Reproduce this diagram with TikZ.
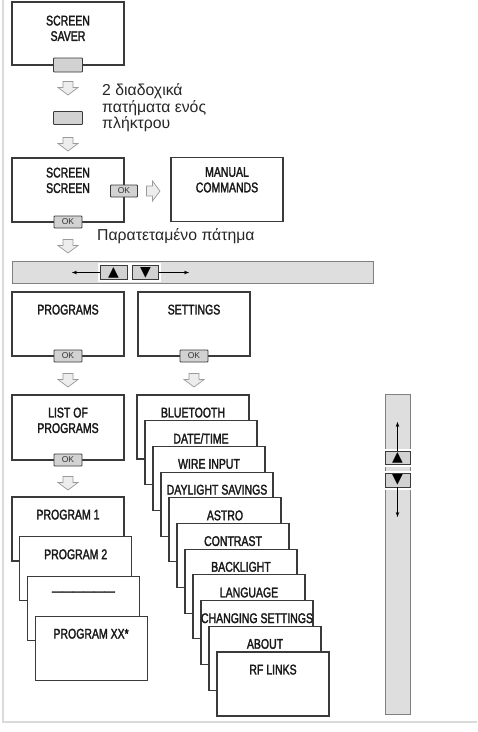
\documentclass[tikz,border=0pt]{standalone}
\usepackage{fontspec}
\usepackage{tikz}
\usetikzlibrary{positioning,arrows.meta}
\setmainfont{Liberation Sans}
\newfontfamily\boxfont[FakeStretch=0.75,FakeBold=2]{Liberation Sans}
\newfontfamily\symfont{DejaVu Sans}
\definecolor{linegray}{HTML}{3A3A3A}
\definecolor{keygray}{HTML}{D2D2D2}
\definecolor{bargray}{HTML}{DEDEDE}
\definecolor{framegray}{HTML}{DADADA}
\definecolor{arrowgray}{HTML}{9A9A9A}
\definecolor{arrowfill}{HTML}{EDEDED}
\tikzset{
  menubox/.style={draw=linegray, line width=1.1pt, fill=white, minimum width=112pt, minimum height=64pt, inner sep=0pt},
  boxtext/.style={font=\boxfont\fontsize{14}{15.5}\selectfont, text=black!90, align=center, inner sep=0pt},
  okkey/.style={draw=linegray, fill=keygray, line width=0.8pt, rounded corners=0.8pt, minimum width=28pt, minimum height=13pt, inner sep=0pt, font=\fontsize{8.5}{8.5}\selectfont, text=black!80},
  pics/blockarrow/.style={code={
    \draw [draw=arrowgray, fill=arrowfill, line width=0.7pt] (-5,-6.5)--(5,-6.5)--(5,-0.5)--(10,-0.5)--(0,7)--(-10,-0.5)--(-5,-0.5)--cycle;
  }},
  bar/.style={draw=gray, fill=bargray, line width=0.8pt, inner sep=0pt},
  navkey/.style={draw=linegray, fill=keygray, line width=0.9pt, inner sep=0pt, preaction={draw=white, line width=5pt}, font=\symfont\fontsize{14}{14}\selectfont},
  navline/.style={-{Stealth[length=5pt,width=3.5pt]}, line width=0.6pt, black},
  greek/.style={font=\fontsize{15.8}{16.7}\selectfont, text=black!85, align=left, inner sep=0pt}
}
\begin{document}
\begin{tikzpicture}[x=1pt,y=-1pt]
        \useasboundingbox (0,0) rectangle (478,732);
        \draw [framegray, line width=2pt] (3,0)--(3,722)--(477,722);

        \node [menubox, minimum height=63pt] (saver) at (68,33.5) {};
        \node [boxtext, below=14pt of saver.north] (saverlbl) {SCREEN\\SAVER};
        \node [okkey, minimum width=29pt, minimum height=14pt] (saverkey) at (68,65) {};
        \pic (arrA) at (68,88) {blockarrow};
        \node [okkey, minimum width=29pt, minimum height=13pt] (presskey) at (68,118) {};
        \node [greek, anchor=base west] (twopress) at (102,128.9) {2 διαδοχικά\\πατήματα ενός\\πλήκτρου};
        \pic (arrB) at (68,144) {blockarrow};

        \node [menubox] (screen) at (68,190) {};
        \node [boxtext, below=10pt of screen.north] (screenlbl) {SCREEN\\SCREEN};
        \node [okkey, minimum width=27pt, minimum height=12pt] (screenokR) at (124,191) {OK};
        \node [okkey, minimum height=12pt] (screenok) at (68,222) {OK};
        \pic [rotate=90] (arrM) at (153,191) {blockarrow};
        \node [menubox] (manual) at (227,189.5) {};
        \node [boxtext, below=10pt of manual.north] (manuallbl) {MANUAL\\COMMANDS};
        \node [greek, anchor=base west] (longpress) at (97,240) {Παρατεταμένο πάτημα};
        \pic (arrC) at (68,246) {blockarrow};

        \node [bar, minimum width=361pt, minimum height=22pt] (hbar) at (192.5,272) {};
        \node [navkey, minimum width=27pt, minimum height=14pt] (hup) at (113.5,272.5) {▲};
        \node [navkey, minimum width=26pt, minimum height=14pt] (hdown) at (145.5,272.5) {▼};
        \coordinate (hleft) at (72,272.5);
        \coordinate (hright) at (189,272.5);
        \draw [navline] (hup.west)--(hleft);
        \draw [navline] (hdown.east)--(hright);

        \node [menubox] (programs) at (68,324) {};
        \node [boxtext, below=13pt of programs.north] (programslbl) {PROGRAMS};
        \node [okkey, minimum height=12pt] (programsok) at (68,356) {OK};
        \node [menubox] (settings) at (194,324) {};
        \node [boxtext, below=13pt of settings.north] (settingslbl) {SETTINGS};
        \node [okkey, minimum height=12pt] (settingsok) at (194,356) {OK};
        \pic (arrD) at (68,380) {blockarrow};
        \pic (arrE) at (194,380) {blockarrow};

        \node [menubox, minimum height=65pt] (list) at (68,427.5) {};
        \node [boxtext, below=13pt of list.north] (listlbl) {LIST OF\\PROGRAMS};
        \node [okkey, minimum height=12pt] (listok) at (68,460) {OK};
        \pic (arrF) at (68,483) {blockarrow};

        \node [menubox] (progA) at (68,529) {};
        \node [boxtext, below=13pt of progA.north] (progAlbl) {PROGRAM 1};
        \node [menubox] (progB) at (75.7,568.7) {};
        \node [boxtext, below=13pt of progB.north] (progBlbl) {PROGRAM 2};
        \node [menubox] (progC) at (83.4,608.4) {};
        \node [boxtext, below=15.5pt of progC.north] (progClbl) {——————};
        \node [menubox] (progD) at (91.1,648.1) {};
        \node [boxtext, below=13pt of progD.north] (progDlbl) {PROGRAM XX*};

        \node [menubox] (bluetooth) at (193,427) {};
        \node [boxtext, below=13pt of bluetooth.north] (bluetoothlbl) {BLUETOOTH};
        \node [menubox] (datetime) at (201,452.7) {};
        \node [boxtext, below=13pt of datetime.north] (datetimelbl) {DATE/TIME};
        \node [menubox] (wire) at (209,478.4) {};
        \node [boxtext, below=13pt of wire.north] (wirelbl) {WIRE INPUT};
        \node [menubox] (daylight) at (217,504.1) {};
        \node [boxtext, below=13pt of daylight.north] (daylightlbl) {DAYLIGHT SAVINGS};
        \node [menubox] (astro) at (225,529.8) {};
        \node [boxtext, below=13pt of astro.north] (astrolbl) {ASTRO};
        \node [menubox] (contrast) at (233,555.5) {};
        \node [boxtext, below=13pt of contrast.north] (contrastlbl) {CONTRAST};
        \node [menubox] (backlight) at (241,581.2) {};
        \node [boxtext, below=13pt of backlight.north] (backlightlbl) {BACKLIGHT};
        \node [menubox] (language) at (249,606.9) {};
        \node [boxtext, below=13pt of language.north] (languagelbl) {LANGUAGE};
        \node [menubox] (changing) at (257,632.6) {};
        \node [boxtext, below=13pt of changing.north] (changinglbl) {CHANGING SETTINGS};
        \node [menubox] (about) at (265,658.3) {};
        \node [boxtext, below=13pt of about.north] (aboutlbl) {ABOUT};
        \node [menubox] (rflinks) at (273,684) {};
        \node [boxtext, below=13pt of rflinks.north] (rflinkslbl) {RF LINKS};

        \node [bar, minimum width=25pt, minimum height=320pt] (vbar) at (397.5,554) {};
        \node [navkey, minimum width=25pt, minimum height=13pt] (vup) at (397.5,457.5) {▲};
        \node [navkey, minimum width=25pt, minimum height=14pt] (vdown) at (397.5,480) {▼};
        \coordinate (vtop) at (397.5,422);
        \coordinate (vbottom) at (397.5,517);
        \draw [navline] (vup.north)--(vtop);
        \draw [navline] (vdown.south)--(vbottom);
    \end{tikzpicture}
\end{document}
